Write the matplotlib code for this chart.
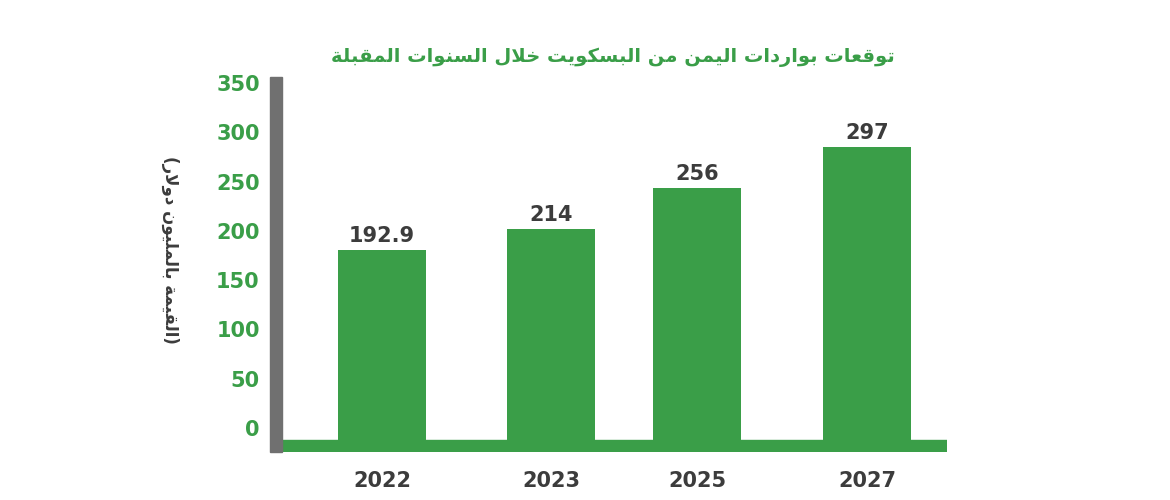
import matplotlib
matplotlib.use("Agg")
import matplotlib.pyplot as plt
from matplotlib.patches import Rectangle

years = ["2022", "2023", "2025", "2027"]
values = [192.9, 214, 256, 297]
value_labels = ["192.9", "214", "256", "297"]
yticks = [0, 50, 100, 150, 200, 250, 300, 350]
title = "توقعات بواردات اليمن من البسكويت خلال السنوات المقبلة"
ylabel = "(القيمة بالمليون دولار)"

# minimal Arabic shaping (presentation forms) + visual reordering
FORMS = {
    'ا': (0xFE8D, 0xFE8E, None, None), 'ب': (0xFE8F, 0xFE90, 0xFE91, 0xFE92),
    'ة': (0xFE93, 0xFE94, None, None), 'ت': (0xFE95, 0xFE96, 0xFE97, 0xFE98),
    'خ': (0xFEA5, 0xFEA6, 0xFEA7, 0xFEA8), 'د': (0xFEA9, 0xFEAA, None, None),
    'ر': (0xFEAD, 0xFEAE, None, None), 'س': (0xFEB1, 0xFEB2, 0xFEB3, 0xFEB4),
    'ع': (0xFEC9, 0xFECA, 0xFECB, 0xFECC), 'ق': (0xFED5, 0xFED6, 0xFED7, 0xFED8),
    'ك': (0xFED9, 0xFEDA, 0xFEDB, 0xFEDC), 'ل': (0xFEDD, 0xFEDE, 0xFEDF, 0xFEE0),
    'م': (0xFEE1, 0xFEE2, 0xFEE3, 0xFEE4), 'ن': (0xFEE5, 0xFEE6, 0xFEE7, 0xFEE8),
    'و': (0xFEED, 0xFEEE, None, None), 'ي': (0xFEF1, 0xFEF2, 0xFEF3, 0xFEF4),
    'ه': (0xFEE9, 0xFEEA, 0xFEEB, 0xFEEC),
}

def dual(c):
    return c in FORMS and FORMS[c][2] is not None

def shape(s):
    chars = list(s)
    out = []
    i = 0
    while i < len(chars):
        c = chars[i]
        prev = chars[i - 1] if i > 0 else ''
        join_prev = dual(prev)
        if c == 'ل' and i + 1 < len(chars) and chars[i + 1] == 'ا':
            out.append(chr(0xFEFC if join_prev else 0xFEFB))
            i += 2
            continue
        if c in FORMS:
            nxt = chars[i + 1] if i + 1 < len(chars) else ''
            join_next = dual(c) and nxt in FORMS
            f = FORMS[c]
            if join_prev and join_next:
                out.append(chr(f[3]))
            elif join_prev:
                out.append(chr(f[1]))
            elif join_next:
                out.append(chr(f[2]))
            else:
                out.append(chr(f[0]))
        else:
            out.append({'(': ')', ')': '('}.get(c, c))
        i += 1
    return ''.join(reversed(out))

GREEN = "#3a9e48"
GRAY = "#707070"
DARK = "#3c3c3c"

fig = plt.figure(figsize=(11.7, 5), dpi=100)
ax = fig.add_axes([282 / 1170, 48 / 500, 665 / 1170, 375 / 500])
bar_x = [100, 269, 415, 585]
ax.set_xlim(0, 665)
ax.set_ylim(-12.2, 368.3)
ax.bar(bar_x, values, width=88, color=GREEN, zorder=2)
ax.axhspan(-12.2, 0, color=GREEN, zorder=3)
for x, v, lab in zip(bar_x, values, value_labels):
    ax.text(x, v + 4, lab, ha="center", va="bottom", fontsize=15,
            fontweight="bold", color=DARK, family="DejaVu Sans")
for s in ax.spines.values():
    s.set_visible(False)
ax.set_xticks(bar_x)
ax.set_xticklabels(years, fontsize=15, fontweight="bold", color=DARK)
ax.set_yticks(yticks)
ax.set_yticklabels([str(t) for t in yticks], fontsize=15, fontweight="bold", color=GREEN)
ax.tick_params(length=0, axis="x", pad=14)
ax.tick_params(length=0, axis="y", pad=16)
for t in ax.get_yticklabels():
    t.set_va("bottom")

fig.patches.append(Rectangle((270 / 1170, 48 / 500), 12 / 1170, 375 / 500,
                             transform=fig.transFigure, color=GRAY))
fig.text(613 / 1170, 1 - 57 / 500, shape(title), ha="center", va="center",
         fontsize=14, fontweight="bold", color=GREEN, family="DejaVu Sans")
fig.text(170 / 1170, 1 - 250 / 500, shape(ylabel), ha="center", va="center",
         rotation=-90, fontsize=12, fontweight="bold", color=DARK, family="DejaVu Sans")
fig.savefig("out.png", dpi=100)
